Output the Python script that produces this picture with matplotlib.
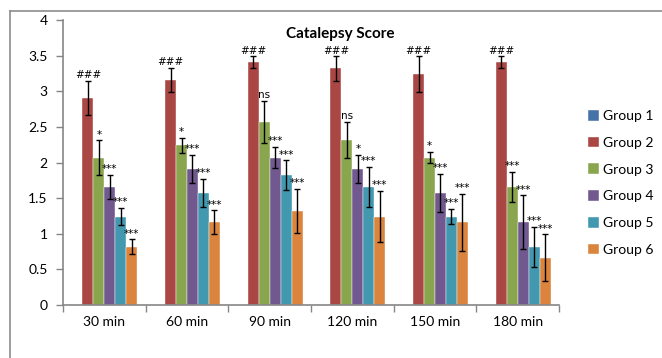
import matplotlib
matplotlib.use("Agg")
import matplotlib.pyplot as plt
import numpy as np
from matplotlib.lines import Line2D

plt.rcParams['font.family'] = ['Lato', 'DejaVu Sans']

categories = ["30 min", "60 min", "90 min", "120 min", "150 min", "180 min"]
groups = ["Group 1", "Group 2", "Group 3", "Group 4", "Group 5", "Group 6"]

g1 = [0, 0, 0, 0, 0, 0]
g2 = [2.91, 3.16, 3.41, 3.32, 3.24, 3.41]
g3 = [2.07, 2.24, 2.57, 2.32, 2.07, 1.66]
g4 = [1.66, 1.91, 2.07, 1.91, 1.57, 1.16]
g5 = [1.24, 1.57, 1.82, 1.66, 1.24, 0.82]
g6 = [0.82, 1.16, 1.32, 1.24, 1.16, 0.66]

e1 = [0, 0, 0, 0, 0, 0]
e2 = [0.24, 0.17, 0.08, 0.17, 0.25, 0.08]
e3 = [0.24, 0.11, 0.30, 0.25, 0.08, 0.21]
e4 = [0.17, 0.20, 0.15, 0.20, 0.27, 0.38]
e5 = [0.12, 0.20, 0.21, 0.28, 0.11, 0.28]
e6 = [0.10, 0.17, 0.31, 0.36, 0.40, 0.33]

s1 = ["", "", "", "", "", ""]
s2 = ["###"] * 6
s3 = ["*", "*", "ns", "ns", "*", "***"]
s4 = ["***", "***", "***", "*", "***", "***"]
s5 = ["***"] * 6
s6 = ["***"] * 6

values = [g1, g2, g3, g4, g5, g6]
errors = [e1, e2, e3, e4, e5, e6]
signs = [s1, s2, s3, s4, s5, s6]
colors = ["#4572A7", "#AA4643", "#89A54E", "#71588F", "#4198AF", "#DB843D"]

fig = plt.figure(figsize=(6.62, 3.58), dpi=100)
ax = fig.add_axes([63/662, 1-305/358, (559-63)/662, (305-20)/358])

x = np.arange(len(categories))
w = 0.133
handles = []
for i, (vals, errs, sg, col, name) in enumerate(zip(values, errors, signs, colors, groups)):
    pos = x + (i - 2.5) * w
    b = ax.bar(pos, vals, width=w, color=col, edgecolor="white", linewidth=0.3, label=name, zorder=2)
    handles.append(b)
    if any(v > 0 for v in vals):
        ax.errorbar(pos, vals, yerr=errs, fmt="none", ecolor="black", elinewidth=1.0,
                    capsize=2.5, capthick=1.0, zorder=3)
    for p, v, e, s in zip(pos, vals, errs, sg):
        if s:
            ax.text(p, v + e + 0.01, s, ha="center", va="bottom", fontsize=7.5,
                    family=["DejaVu Sans"], zorder=4)

ax.set_xlim(-0.5, len(categories) - 0.5)
ax.set_ylim(0, 4)
ax.set_yticks(np.arange(0, 4.01, 0.5))
ax.set_yticklabels(["%g" % t for t in np.arange(0, 4.01, 0.5)])
ax.set_xticks(np.arange(-0.5, len(categories), 1.0))
ax.set_xticklabels([])
ax.set_xticks(x, minor=True)
ax.set_xticklabels(categories, minor=True)
ax.tick_params(axis="x", which="minor", length=0, pad=8, labelsize=10)
ax.tick_params(axis="x", which="major", length=5, color="#868686", width=1)
ax.tick_params(axis="y", length=5, color="#868686", width=1, labelsize=10, pad=6)
for sp in ["top", "right"]:
    ax.spines[sp].set_visible(False)
for sp in ["left", "bottom"]:
    ax.spines[sp].set_color("#868686")
    ax.spines[sp].set_linewidth(1.2)

fig.text(340/662, 1-34/358, "Catalepsy Score", ha="center", va="center",
         fontsize=11, fontweight="bold")

fig.legend(handles=handles, labels=groups, loc="upper left",
           bbox_to_anchor=(588/662, 1-110/358), frameon=False, fontsize=10,
           borderpad=0, borderaxespad=0,
           handlelength=0.8, handleheight=0.8, handletextpad=0.3, labelspacing=1.05)

fig.add_artist(Line2D([10/662, 1], [1-11/358, 1-11/358], transform=fig.transFigure,
                      color="#8c8c8c", linewidth=1.2))
fig.add_artist(Line2D([10/662, 10/662], [1-11/358, 0], transform=fig.transFigure,
                      color="#8c8c8c", linewidth=1.2))

fig.savefig("out.png", dpi=100)
